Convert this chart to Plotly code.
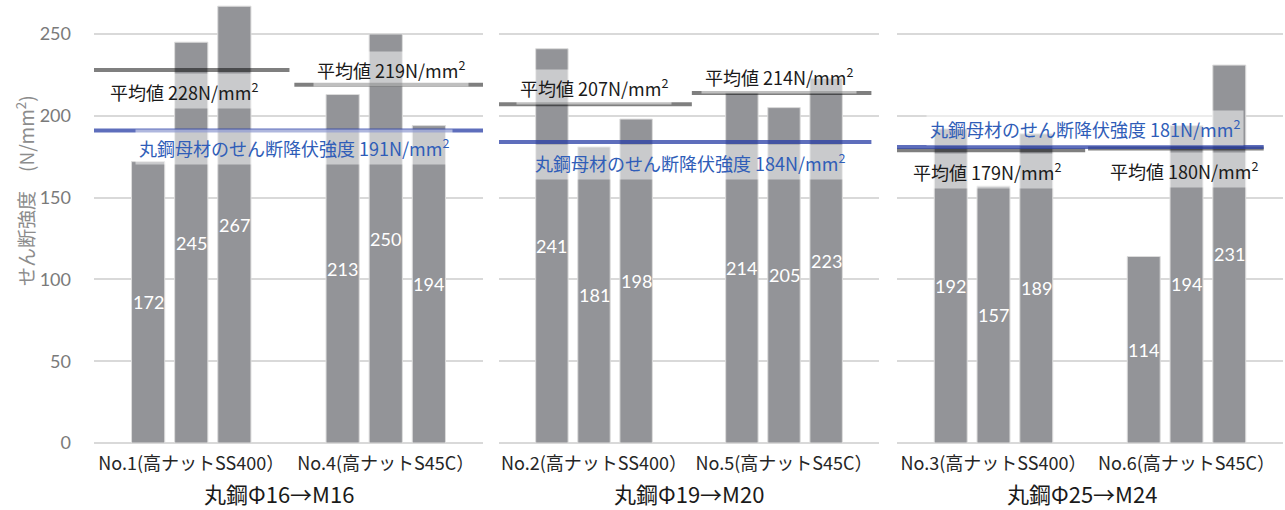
import plotly.graph_objects as go

# ---- data -------------------------------------------------------------
groups = ["丸鋼Φ16→M16", "丸鋼Φ19→M20", "丸鋼Φ25→M24"]
specimens = [
    ["No.1(高ナットSS400）", "No.4(高ナットS45C）"],
    ["No.2(高ナットSS400）", "No.5(高ナットS45C）"],
    ["No.3(高ナットSS400）", "No.6(高ナットS45C）"],
]
# shear strength of the three test pieces per specimen (N/mm2)
shear_strength = [
    [[172, 245, 267], [213, 250, 194]],
    [[241, 181, 198], [214, 205, 223]],
    [[192, 157, 189], [114, 194, 231]],
]
average_strength = [[228, 219], [207, 214], [179, 180]]
base_yield_strength = [191, 184, 181]
y_ticks = [0, 50, 100, 150, 200, 250]

# ---- styling / layout ---------------------------------------------
W, H = 1285, 510
PLOT_BOTTOM = 443            # px from top of the page
PX_PER_UNIT = 1.636
Y_MAX = PLOT_BOTTOM / PX_PER_UNIT
domains = [(94, 483), (499, 879), (897, 1283)]

BARGAP, BARGROUPGAP = 0.335, 0.23
SLOT = (1 - BARGAP) / 3      # width of one bar slot in category units

BAR_COLOR = "#939498"
GRID = "#d9d9d9"
AVG_LINE = "rgba(0,0,0,0.5)"
BASE_LINE = "rgba(40,62,165,0.75)"
BASE_TEXT = "#2f5db8"
JP = "Noto Sans CJK JP"
NUM = "Lato"

# horizontal extents of the reference lines (category units)
avg_spans = [[(-0.5, 0.505), (0.53, 1.5)],
             [(-0.5, 0.515), (0.515, 1.46)],
             [(-0.5, 0.475), (0.49, 1.40)]]
base_spans = [(-0.5, 1.5), (-0.5, 1.46), (-0.5, 1.40)]
# label placement: x in category units, vertical shift (px) from the line
avg_label_x = [[-0.036, 1.026], [0.0, 0.974], [-0.036, 0.987]]
avg_label_shift = [[-21, 16], [17, 17], [-21, -21]]
base_label_x = [0.528, 0.503, 0.474]
base_label_shift = [-16, -20, 19]
title_xshift = [-10, 0, -8]

fig = go.Figure()
shapes, annotations = [], []

for p in range(3):
    sfx = "" if p == 0 else str(p + 1)
    xa, ya = "x" + sfx, "y" + sfx
    cats = specimens[p]
    for k in range(3):
        vals = [shear_strength[p][c][k] for c in range(2)]
        fig.add_trace(go.Bar(
            x=cats, y=vals, xaxis=xa, yaxis=ya,
            marker=dict(color=BAR_COLOR, line=dict(color="#dcdcdc", width=1)),
            showlegend=False, hoverinfo="skip",
        ))
        # value label centred inside each bar
        for c in range(2):
            annotations.append(dict(
                xref=xa, yref=ya, x=c + (k - 1) * SLOT, y=vals[c] / 2,
                text=str(vals[c]), showarrow=False,
                xanchor="center", yanchor="middle",
                font=dict(family=NUM, size=18, color="white"),
            ))

    # average lines per specimen
    for c in range(2):
        x0, x1 = avg_spans[p][c]
        shapes.append(dict(type="line", xref=xa, yref=ya,
                           x0=x0, x1=x1, y0=average_strength[p][c], y1=average_strength[p][c],
                           line=dict(color=AVG_LINE, width=4), layer="above"))
    # base-material shear yield strength
    b0, b1 = base_spans[p]
    shapes.append(dict(type="line", xref=xa, yref=ya,
                       x0=b0, x1=b1, y0=base_yield_strength[p], y1=base_yield_strength[p],
                       line=dict(color=BASE_LINE, width=4), layer="above"))

    for c in range(2):
        annotations.append(dict(
            xref=xa, yref=ya, x=avg_label_x[p][c], y=average_strength[p][c],
            yshift=avg_label_shift[p][c], showarrow=False,
            text=f"平均値 {average_strength[p][c]}N/mm<sup>2</sup>",
            font=dict(family=JP, size=18, color="#1a1a1a"),
            bgcolor="rgba(255,255,255,0.5)", borderpad=3,
        ))
    annotations.append(dict(
        xref=xa, yref=ya, x=base_label_x[p], y=base_yield_strength[p],
        yshift=base_label_shift[p], showarrow=False,
        text=f"丸鋼母材のせん断降伏強度 {base_yield_strength[p]}N/mm<sup>2</sup>",
        font=dict(family=JP, size=18, color=BASE_TEXT),
        bgcolor="rgba(255,255,255,0.5)", borderpad=3,
    ))
    annotations.append(dict(
        xref=xa + " domain", yref="paper", x=0.5, y=-(493 - PLOT_BOTTOM) / PLOT_BOTTOM,
        xanchor="center", yanchor="middle", xshift=title_xshift[p], showarrow=False,
        text=groups[p], font=dict(family=JP, size=22, color="#1a1a1a"),
    ))

    d0, d1 = domains[p]
    fig.update_layout(**{
        ("xaxis" + sfx): dict(domain=[d0 / W, d1 / W], anchor=ya, range=[-0.5, 1.5],
                              showgrid=False, showline=False, zeroline=False, ticks="",
                              ticklabelstandoff=8,
                              tickfont=dict(family=JP, size=18, color="#262626")),
        ("yaxis" + sfx): dict(domain=[0, 1], anchor=xa, range=[0, Y_MAX],
                              tickvals=y_ticks, showgrid=True, gridcolor=GRID, gridwidth=1.5,
                              zeroline=True, zerolinecolor=GRID, zerolinewidth=2,
                              showline=False, ticks="", showticklabels=(p == 0),
                              ticklabelstandoff=22,
                              tickfont=dict(family=NUM, size=18, color="#7a7a7a")),
    })

annotations.append(dict(
    xref="paper", yref="paper", x=25 / W, y=(PLOT_BOTTOM - 191) / PLOT_BOTTOM,
    xanchor="center", yanchor="middle", textangle=-90, showarrow=False,
    text="せん断強度　(N/mm<sup>2</sup>)",
    font=dict(family=JP, size=19, color="#8c8c8c"),
))

fig.update_layout(
    width=W, height=H, margin=dict(l=0, r=0, t=0, b=H - PLOT_BOTTOM),
    paper_bgcolor="white", plot_bgcolor="white",
    barmode="group", bargap=BARGAP, bargroupgap=BARGROUPGAP,
    shapes=shapes, annotations=annotations,
    font=dict(family=JP),
)

fig.write_html("out.html")
